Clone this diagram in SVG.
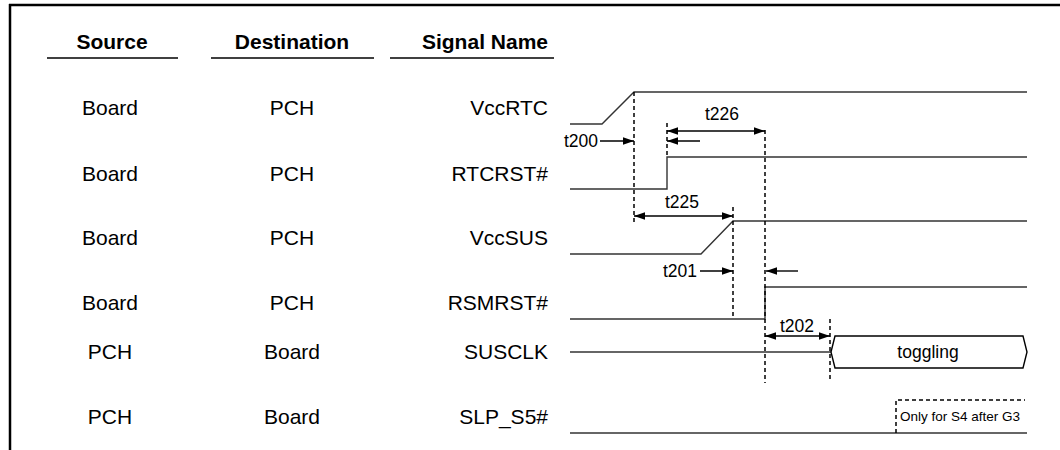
<svg xmlns="http://www.w3.org/2000/svg" width="1060" height="450" viewBox="0 0 1060 450">
<defs>
<style>
.hdr{font-family:"Liberation Sans",Arial,sans-serif;font-size:21px;font-weight:bold;fill:#000}
.lbl{font-family:"Liberation Sans",Arial,sans-serif;font-size:21px;fill:#000}
.tm{font-family:"Liberation Sans",Arial,sans-serif;font-size:17.5px;fill:#000}
.note{font-family:"Liberation Sans",Arial,sans-serif;font-size:13.5px;fill:#000}
.wave{fill:none;stroke:#333;stroke-width:1.4}
.dash{fill:none;stroke:#000;stroke-width:1.5;stroke-dasharray:4 3}
.arr{fill:none;stroke:#000;stroke-width:1.4}
.ul{stroke:#000;stroke-width:1.6}
</style>
<marker id="ah" viewBox="0 0 10 7" refX="10" refY="3.5" markerWidth="11" markerHeight="8" markerUnits="userSpaceOnUse" orient="auto-start-reverse">
<path d="M0,0 L10,3.5 L0,7 z" fill="#000"/>
</marker>
</defs>
<rect width="1060" height="450" fill="#fff"/>
<g id="frame">
<line x1="9" y1="5" x2="1060" y2="5" stroke="#000" stroke-width="2.5"/>
<line x1="10" y1="4" x2="10" y2="450" stroke="#000" stroke-width="2.5"/>
</g>
<g id="header">
<text class="hdr" x="112" y="49" text-anchor="middle">Source</text>
<text class="hdr" x="292" y="49" text-anchor="middle">Destination</text>
<text class="hdr" x="548" y="49" text-anchor="end">Signal Name</text>
<line class="ul" x1="47" y1="58" x2="178" y2="58"/>
<line class="ul" x1="211" y1="58" x2="374" y2="58"/>
<line class="ul" x1="390" y1="58" x2="554" y2="58"/>
</g>
<g id="row-vccrtc">
<text class="lbl" x="110" y="115" text-anchor="middle">Board</text>
<text class="lbl" x="292" y="115" text-anchor="middle">PCH</text>
<text class="lbl" x="548" y="115" text-anchor="end">VccRTC</text>
<polyline class="wave" points="570,124 602,124 634,92 1027,92"/>
</g>
<g id="row-rtcrst">
<text class="lbl" x="110" y="181" text-anchor="middle">Board</text>
<text class="lbl" x="292" y="181" text-anchor="middle">PCH</text>
<text class="lbl" x="548" y="181" text-anchor="end">RTCRST#</text>
<polyline class="wave" points="570,189 667,189 667,157 1027,157"/>
</g>
<g id="row-vccsus">
<text class="lbl" x="110" y="245" text-anchor="middle">Board</text>
<text class="lbl" x="292" y="245" text-anchor="middle">PCH</text>
<text class="lbl" x="548" y="245" text-anchor="end">VccSUS</text>
<polyline class="wave" points="570,254 701,254 733,221 1027,221"/>
</g>
<g id="row-rsmrst">
<text class="lbl" x="110" y="310" text-anchor="middle">Board</text>
<text class="lbl" x="292" y="310" text-anchor="middle">PCH</text>
<text class="lbl" x="548" y="310" text-anchor="end">RSMRST#</text>
<polyline class="wave" points="570,319 765,319 765,287 1027,287"/>
</g>
<g id="row-susclk">
<text class="lbl" x="110" y="359" text-anchor="middle">PCH</text>
<text class="lbl" x="292" y="359" text-anchor="middle">Board</text>
<text class="lbl" x="548" y="359" text-anchor="end">SUSCLK</text>
<line class="wave" x1="570" y1="352" x2="831" y2="352"/>
<polygon points="831,352 835,336 1023,336 1027,352 1023,368 835,368" fill="#fff" stroke="#000" stroke-width="1.4"/>
<text class="tm" x="928" y="358" text-anchor="middle">toggling</text>
</g>
<g id="row-slps5">
<text class="lbl" x="110" y="424" text-anchor="middle">PCH</text>
<text class="lbl" x="292" y="424" text-anchor="middle">Board</text>
<text class="lbl" x="548" y="424" text-anchor="end">SLP_S5#</text>
<line class="wave" x1="570" y1="433" x2="1027" y2="433"/>
<polyline class="dash" points="896,433 896,400 1025,400"/>
<text class="note" x="900" y="421">Only for S4 after G3</text>
</g>
<g id="connectors">
<line class="dash" x1="634" y1="92" x2="634" y2="223"/>
<line class="dash" x1="667" y1="123" x2="667" y2="157"/>
<line class="dash" x1="765" y1="130" x2="765" y2="383"/>
<line class="dash" x1="733" y1="207" x2="733" y2="319"/>
<line class="dash" x1="830" y1="319" x2="830" y2="382"/>
<line class="arr" x1="600" y1="141" x2="634" y2="141" marker-end="url(#ah)"/>
<text class="tm" x="598" y="147" text-anchor="end">t200</text>
<line class="arr" x1="667" y1="131" x2="765" y2="131" marker-start="url(#ah)" marker-end="url(#ah)"/>
<text class="tm" x="722" y="120" text-anchor="middle">t226</text>
<line class="arr" x1="700" y1="141" x2="667" y2="141" marker-end="url(#ah)"/>
<line class="arr" x1="634" y1="216" x2="733" y2="216" marker-start="url(#ah)" marker-end="url(#ah)"/>
<text class="tm" x="682" y="208" text-anchor="middle">t225</text>
<line class="arr" x1="700" y1="271" x2="733" y2="271" marker-end="url(#ah)"/>
<text class="tm" x="697" y="277" text-anchor="end">t201</text>
<line class="arr" x1="798" y1="271" x2="766" y2="271" marker-end="url(#ah)"/>
<line class="arr" x1="765" y1="336" x2="830" y2="336" marker-start="url(#ah)" marker-end="url(#ah)"/>
<text class="tm" x="797" y="332" text-anchor="middle">t202</text>
</g>
</svg>
